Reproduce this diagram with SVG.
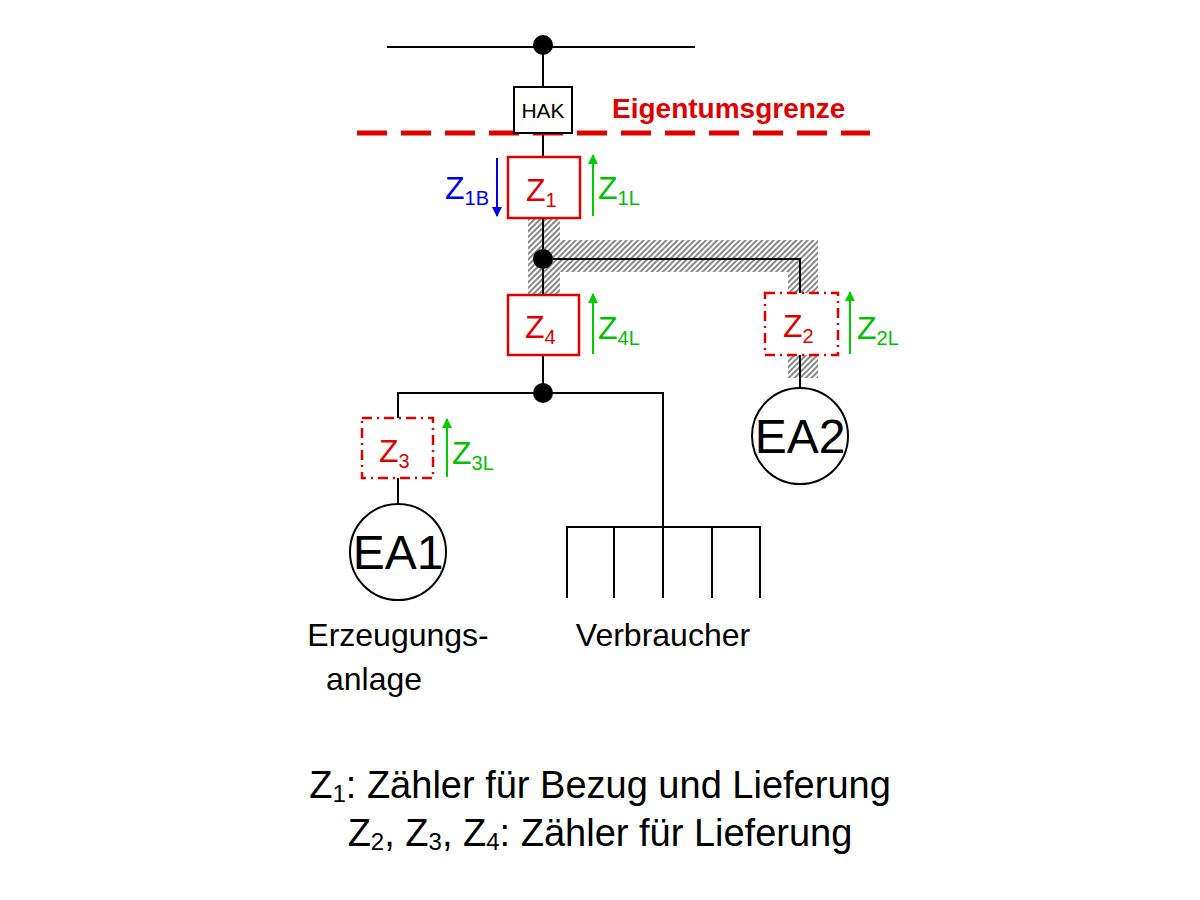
<svg xmlns="http://www.w3.org/2000/svg" width="1200" height="900" viewBox="0 0 1200 900">
<defs>
<pattern id="h" width="4" height="4" patternUnits="userSpaceOnUse" patternTransform="rotate(45)"><rect width="4" height="4" fill="#fff"/><rect width="2" height="4" fill="#888"/></pattern>
<marker id="ab" viewBox="0 0 10 10" refX="9" refY="5" markerWidth="5" markerHeight="5" orient="auto"><path d="M0,0L10,5L0,10z" fill="#0000ee"/></marker>
<marker id="ag" viewBox="0 0 10 10" refX="9" refY="5" markerWidth="5" markerHeight="5" orient="auto"><path d="M0,0L10,5L0,10z" fill="#00cc00"/></marker>
</defs>
<style>
text{font-family:"Liberation Sans",Arial,sans-serif}
.w{stroke:#000;stroke-width:2;fill:none}
.m{fill:#fff;stroke:#e00000;stroke-width:2.5}
.d{fill:#fff;stroke:#e00000;stroke-width:2.5;stroke-dasharray:10,5,2,5}
.r{fill:#e00000;font-size:32px}
.g{fill:#00c000;font-size:32px}
.b{fill:#0000ee;font-size:32px}
.s{font-size:20px}
.c{fill:#fff;stroke:#000;stroke-width:2}
</style>
<rect width="1200" height="900" fill="#fff"/>
<g id="hatch" fill="url(#h)">
<path d="M528,218H560V240H818V293H788V272H560V295H528Z"/>
<rect x="788" y="355" width="30" height="23"/>
</g>
<g id="connectors">
<line class="w" x1="387" y1="47" x2="695" y2="47"/>
<line class="w" x1="543" y1="47" x2="543" y2="393"/>
<polyline class="w" points="543,259 800,259 800,293"/>
<line class="w" x1="800" y1="355" x2="800" y2="390"/>
<polyline class="w" points="398,418 398,393 663,393 663,527"/>
<line class="w" x1="398" y1="478" x2="398" y2="504"/>
<polyline class="w" points="567,598 567,527 760,527 760,598"/>
<line class="w" x1="614" y1="527" x2="614" y2="598"/>
<line class="w" x1="712" y1="527" x2="712" y2="598"/>
<line class="w" x1="663" y1="527" x2="663" y2="598"/>
<circle cx="543" cy="45" r="10"/>
<circle cx="543" cy="259" r="10"/>
<circle cx="543" cy="393" r="10"/>
<line x1="357" y1="133" x2="870" y2="133" stroke="#e00000" stroke-width="5" stroke-dasharray="30,14"/>
<line x1="497" y1="158" x2="497" y2="216" stroke="#0000ee" stroke-width="2" marker-end="url(#ab)"/>
<line x1="593" y1="216" x2="593" y2="155" stroke="#00cc00" stroke-width="2" marker-end="url(#ag)"/>
<line x1="593" y1="354" x2="593" y2="294" stroke="#00cc00" stroke-width="2" marker-end="url(#ag)"/>
<line x1="850" y1="354" x2="850" y2="292" stroke="#00cc00" stroke-width="2" marker-end="url(#ag)"/>
<line x1="447" y1="477" x2="447" y2="419" stroke="#00cc00" stroke-width="2" marker-end="url(#ag)"/>
</g>
<g id="HAK"><rect x="514" y="87" width="58" height="46" fill="#fff" stroke="#000" stroke-width="2"/><text x="543" y="118" font-size="21" text-anchor="middle">HAK</text></g>
<text x="612" y="118" font-size="28" font-weight="bold" fill="#e00000">Eigentumsgrenze</text>
<g id="Z1"><rect class="m" x="508" y="157" width="72" height="61"/><text class="r" x="526" y="201">Z<tspan class="s" dy="6">1</tspan></text></g>
<text class="b" x="445" y="199">Z<tspan class="s" dy="6">1B</tspan></text>
<text class="g" x="598" y="199">Z<tspan class="s" dy="6">1L</tspan></text>
<g id="Z4"><rect class="m" x="508" y="295" width="71" height="60"/><text class="r" x="525" y="338">Z<tspan class="s" dy="6">4</tspan></text></g>
<text class="g" x="598" y="339">Z<tspan class="s" dy="6">4L</tspan></text>
<g id="Z2"><rect class="d" x="765" y="293" width="73" height="62"/><text class="r" x="783" y="337">Z<tspan class="s" dy="6">2</tspan></text></g>
<text class="g" x="857" y="339">Z<tspan class="s" dy="6">2L</tspan></text>
<g id="Z3"><rect class="d" x="362" y="418" width="71" height="60"/><text class="r" x="379" y="462">Z<tspan class="s" dy="6">3</tspan></text></g>
<text class="g" x="452" y="464">Z<tspan class="s" dy="6">3L</tspan></text>
<g id="EA2"><circle class="c" cx="800" cy="436" r="48"/><text x="800" y="453" font-size="48" text-anchor="middle">EA2</text></g>
<g id="EA1"><circle class="c" cx="398" cy="552" r="48"/><text x="398" y="569" font-size="48" text-anchor="middle">EA1</text></g>
<text x="398" y="646" font-size="32" text-anchor="middle">Erzeugungs-</text>
<text x="374" y="690" font-size="32" text-anchor="middle">anlage</text>
<text x="663" y="646" font-size="32" text-anchor="middle">Verbraucher</text>
<text x="600" y="798" font-size="38" text-anchor="middle">Z<tspan font-size="24" dy="4">1</tspan><tspan dy="-4">: Zähler für Bezug und Lieferung</tspan></text>
<text x="600" y="846" font-size="38" text-anchor="middle">Z<tspan font-size="24" dy="4">2</tspan><tspan dy="-4">, Z</tspan><tspan font-size="24" dy="4">3</tspan><tspan dy="-4">, Z</tspan><tspan font-size="24" dy="4">4</tspan><tspan dy="-4">: Zähler für Lieferung</tspan></text>
</svg>
